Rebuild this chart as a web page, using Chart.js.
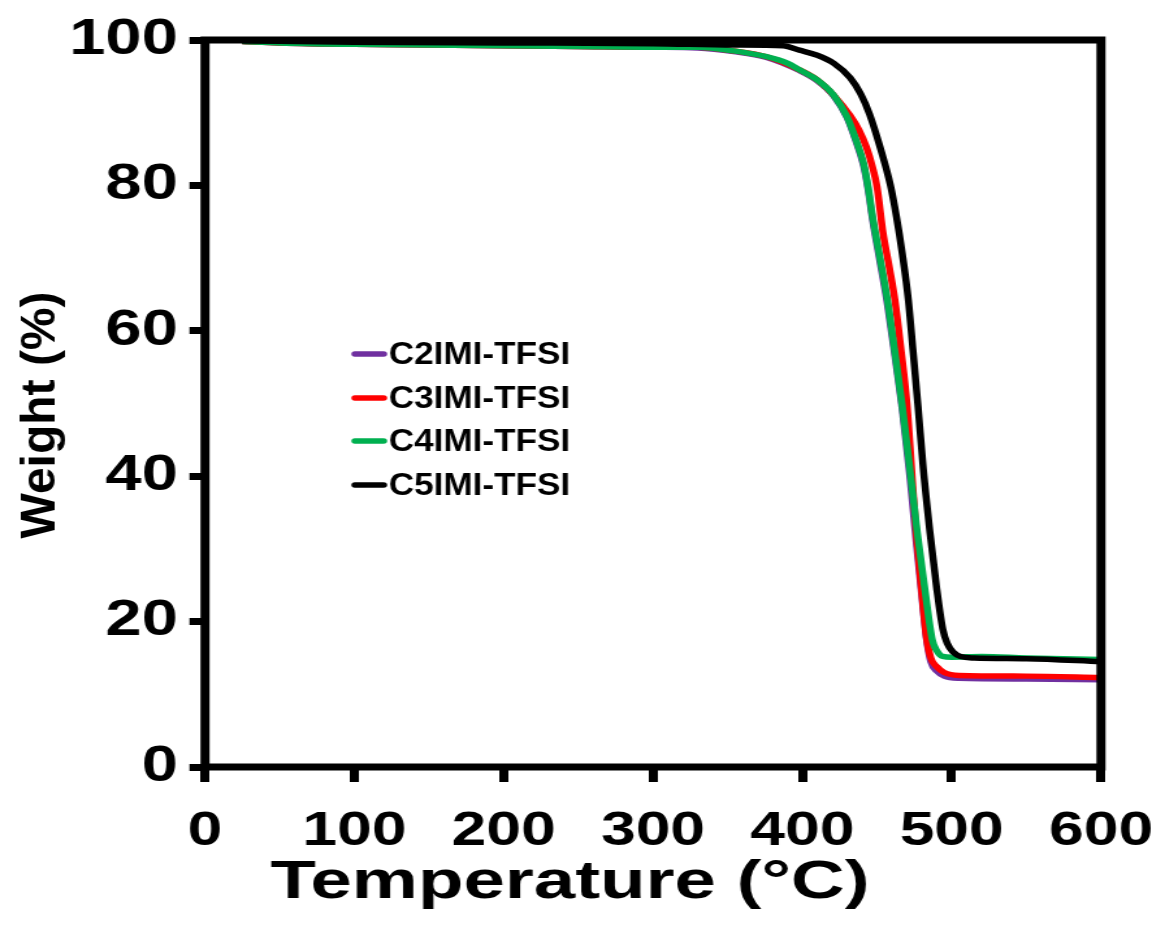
<!DOCTYPE html>
<html>
<head>
<meta charset="utf-8">
<script src="https://cdn.jsdelivr.net/npm/chart.js@4.4.1/dist/chart.umd.min.js"></script>
<style>
  html, body { margin: 0; padding: 0; background: #fff; overflow: hidden; }
  /* the original figure is stretched sideways, so the canvas is too */
  #wrap { width: 886px; height: 928px; transform: scaleX(1.3002); transform-origin: 0 0; }
</style>
</head>
<body>
<div id="wrap"><canvas id="tga" width="886" height="928"></canvas></div>
<script>
const STRETCH = 1.3002;

// TGA curves: [temperature (°C), weight (%)]
const c2Points = [
  [25, 99.8], [50, 99.6], [100, 99.4], [150, 99.3], [200, 99.2], [250, 99.1], [300, 99.0],
  [330, 98.9], [354, 98.4], [376, 97.6], [398, 95.8], [410, 94.4], [421, 92.3], [430, 89.3],
  [436, 86.0], [441, 82.7], [444, 79.5], [447, 75.3], [452, 69.5], [457, 63.6], [462, 56.5],
  [467, 49.0], [472, 40.0], [476, 31.5], [480, 23.5], [483, 17.8], [486, 14.5], [490, 13.2],
  [495, 12.5], [505, 12.2], [550, 12.1], [600, 12.0]
];
const c3Points = [
  [25, 99.8], [50, 99.6], [100, 99.4], [150, 99.3], [200, 99.2], [250, 99.1], [300, 99.0],
  [330, 99.0], [354, 98.5], [376, 97.7], [398, 95.9], [410, 94.5], [421, 92.4], [432, 89.6],
  [438, 87.6], [443, 85.2], [447, 82.5], [450, 79.8], [454, 73.5], [458, 69.0], [462, 64.2],
  [466, 57.5], [470, 50.0], [474.5, 37.0], [477, 30.5], [480, 24.0], [483, 18.0], [486, 15.0],
  [490, 13.8], [495, 13.0], [505, 12.6], [550, 12.5], [600, 12.3]
];
const c4Points = [
  [25, 99.8], [50, 99.6], [100, 99.4], [150, 99.3], [200, 99.2], [250, 99.1], [300, 99.0],
  [330, 99.0], [354, 98.5], [376, 97.7], [390, 96.8], [398, 95.9], [410, 94.5], [421, 92.4],
  [430, 89.4], [436, 86.2], [441, 83.0], [444, 79.8], [447, 75.7], [452, 70.0], [457, 64.2],
  [462, 57.0], [467, 49.5], [472, 41.0], [477, 32.2], [482, 24.5], [487, 17.5], [490, 16.0],
  [494, 15.2], [500, 15.1], [520, 15.2], [550, 15.0], [600, 14.8]
];
const c5Points = [
  [25, 99.9], [100, 99.7], [200, 99.6], [300, 99.5], [354, 99.3], [387, 99.2], [398, 98.6],
  [410, 97.9], [421, 96.8], [432, 94.8], [439, 92.6], [445, 89.8], [452, 85.3], [459, 80.0],
  [463, 75.7], [467, 70.5], [471, 64.2], [474, 57.5], [477.5, 49.5], [481, 41.0], [485.5, 32.2],
  [490, 24.5], [494, 19.0], [497, 17.0], [501, 15.8], [506, 15.2], [515, 15.0], [550, 14.9],
  [600, 14.5]
];

const seriesNames = ['C2IMI-TFSI', 'C3IMI-TFSI', 'C4IMI-TFSI', 'C5IMI-TFSI'];
const seriesColors = ['#7030A0', '#FF0000', '#00B050', '#000000'];
const seriesPoints = [c2Points, c3Points, c4Points, c5Points];
// later series sit on top in the original
const seriesOrder = [3, 2, 1, 0];

const xTickValues = [0, 100, 200, 300, 400, 500, 600];
const yTickValues = [0, 20, 40, 60, 80, 100];
const xTitle = 'Temperature (°C)';
const yTitle = 'Weight (%)';

const boldArial = 'Liberation Sans, Arial, sans-serif';

// box around the plot
const frame = {
  id: 'frame',
  afterDatasetsDraw(chart) {
    const a = chart.chartArea;
    const ctx = chart.ctx;
    ctx.save();
    ctx.strokeStyle = '#000';
    ctx.lineWidth = 7;
    ctx.strokeRect(a.left, a.top, a.right - a.left, a.bottom - a.top);
    ctx.restore();
  }
};

// axis titles: the y one is not stretched in the original, the x one sits left of centre
const axisTitles = {
  id: 'axisTitles',
  afterDraw(chart) {
    const ctx = chart.ctx;
    ctx.save();
    ctx.fillStyle = '#000';
    ctx.font = 'bold 54px ' + boldArial;
    ctx.textAlign = 'center';
    ctx.textBaseline = 'alphabetic';
    ctx.translate(570 / STRETCH, 898);
    ctx.scale(1.06, 1);
    ctx.fillText(xTitle, 0, 0);
    ctx.restore();

    ctx.save();
    ctx.fillStyle = '#000';
    ctx.font = 'bold 48px ' + boldArial;
    ctx.textAlign = 'center';
    ctx.textBaseline = 'middle';
    ctx.translate(41 / STRETCH, 415);
    ctx.scale(1 / STRETCH, 1);
    ctx.rotate(-Math.PI / 2);
    ctx.fillText(yTitle, 0, 0);
    ctx.restore();
  }
};

// legend floats inside the plot, left of the drop
const floatLegend = {
  id: 'floatLegend',
  afterDraw(chart) {
    const ctx = chart.ctx;
    const rowsY = [354, 398, 441, 485];
    ctx.save();
    ctx.font = 'bold 32px ' + boldArial;
    ctx.textBaseline = 'middle';
    ctx.textAlign = 'left';
    chart.data.datasets.forEach((ds, i) => {
      const y = rowsY[i];
      ctx.strokeStyle = ds.borderColor;
      ctx.lineWidth = 5.5;
      ctx.lineCap = 'round';
      ctx.beginPath();
      ctx.moveTo(273, y);
      ctx.lineTo(295, y);
      ctx.stroke();
      ctx.save();
      ctx.translate(299, y + 1);
      ctx.scale(0.844, 1);
      ctx.fillStyle = '#000';
      ctx.fillText(ds.label, 0, 0);
      ctx.restore();
    });
    ctx.restore();
  }
};

const datasets = seriesNames.map((name, i) => ({
  label: name,
  data: seriesPoints[i].map(p => ({ x: p[0], y: p[1] })),
  borderColor: seriesColors[i],
  backgroundColor: seriesColors[i],
  borderWidth: 5.5,
  pointRadius: 0,
  cubicInterpolationMode: 'monotone',
  order: seriesOrder[i]
}));

new Chart(document.getElementById('tga'), {
  type: 'line',
  data: { datasets },
  options: {
    responsive: false,
    animation: false,
    layout: { padding: { top: 40, right: 39.2, left: 0, bottom: 0 } },
    plugins: {
      legend: { display: false },
      tooltip: { enabled: false }
    },
    scales: {
      x: {
        type: 'linear',
        min: 0,
        max: 600,
        afterBuildTicks: (scale) => { scale.ticks = xTickValues.map(v => ({ value: v })); },
        afterFit: (scale) => { scale.height = 161; scale.paddingLeft = 0; scale.paddingRight = 0; },
        grid: { drawOnChartArea: false, drawTicks: true, tickLength: 15, tickWidth: 7, tickColor: '#000' },
        border: { display: false },
        ticks: { color: '#000', padding: 21, maxRotation: 0, font: { family: boldArial, size: 48, weight: 'bold' } },
        title: { display: false }
      },
      y: {
        min: 0,
        max: 100,
        afterBuildTicks: (scale) => { scale.ticks = yTickValues.map(v => ({ value: v })); },
        afterFit: (scale) => { scale.width = 157.7; scale.paddingTop = 0; scale.paddingBottom = 0; },
        grid: { drawOnChartArea: false, drawTicks: true, tickLength: 12, tickWidth: 7, tickColor: '#000' },
        border: { display: false },
        ticks: { color: '#000', padding: 9, font: { family: boldArial, size: 50, weight: 'bold' } },
        title: { display: false }
      }
    }
  },
  plugins: [frame, axisTitles, floatLegend]
});
</script>
</body>
</html>
